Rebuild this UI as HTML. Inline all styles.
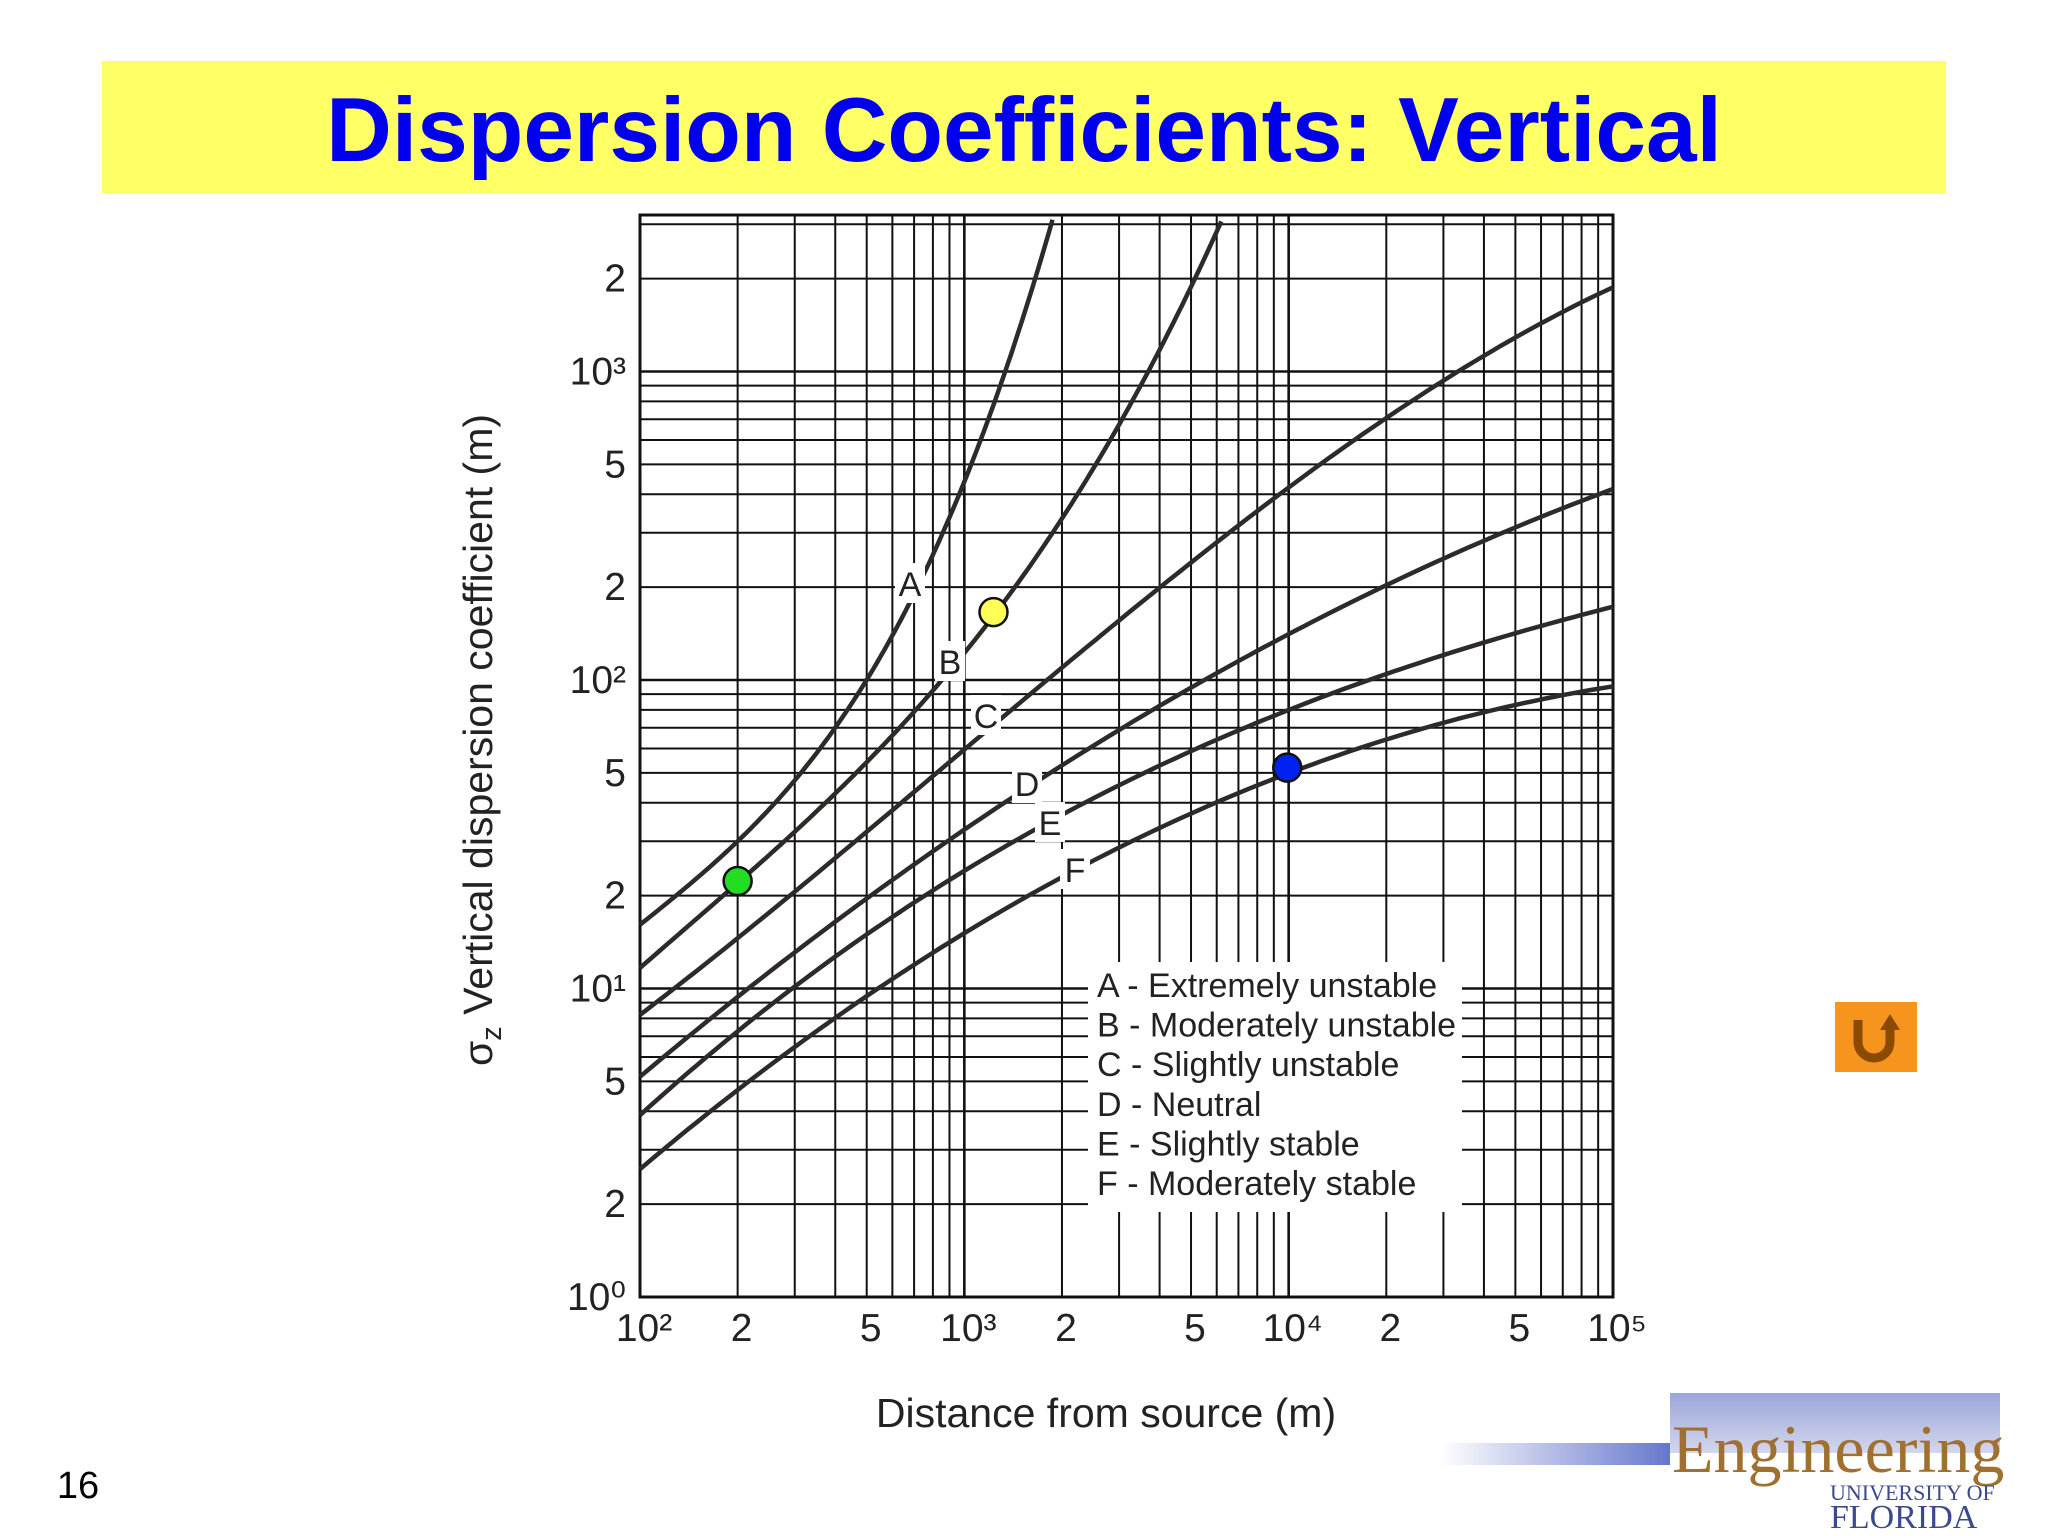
<!DOCTYPE html>
<html><head><meta charset="utf-8"><style>
html,body{margin:0;padding:0;background:#fff;}
svg{display:block;font-family:"Liberation Sans",Arial,sans-serif;}
</style></head><body>
<svg id="chart" width="2048" height="1536" viewBox="0 0 2048 1536" xmlns="http://www.w3.org/2000/svg">
<rect x="102" y="61" width="1844" height="132" fill="#ffff66"/>
<text x="1024" y="161" text-anchor="middle" font-size="91" font-weight="bold" fill="#0000ee">Dispersion Coefficients: Vertical</text>
<text x="78" y="1498" text-anchor="middle" font-size="38" fill="#000">16</text>
<g id="grid"></g>
<g id="curves"></g>
<g id="legend">
<rect x="1088" y="962" width="374" height="250" fill="#fff"/>
</g>
<g id="labels"></g>
<text transform="translate(492,740) rotate(-90)" text-anchor="middle" font-size="41" fill="#222">σ<tspan font-size="29" dy="9">z</tspan><tspan dy="-9"> Vertical dispersion coefficient (m)</tspan></text>
<text x="1106" y="1427" text-anchor="middle" font-size="41" fill="#222">Distance from source (m)</text>
<g>
<rect x="1835" y="1002" width="82" height="70" fill="#f7941d"/>
<path d="M1858 1020 v22 a16 16 0 0 0 32 0 v-14" fill="none" stroke="#8a4a00" stroke-width="9"/>
<path d="M1880 1030 l10 -16 l10 16 z" fill="#8a4a00"/>
</g>
<g>
<defs><linearGradient id="bar" x1="0" x2="1"><stop offset="0" stop-color="#fff"/><stop offset="1" stop-color="#6677cc"/></linearGradient>
<linearGradient id="box" x1="0" y1="0" x2="0" y2="1"><stop offset="0" stop-color="#8090d0"/><stop offset="1" stop-color="#c8cce8"/></linearGradient></defs>
<rect x="1440" y="1443" width="230" height="22" fill="url(#bar)"/>
<rect x="1670" y="1393" width="330" height="60" fill="url(#box)" opacity="0.8"/>
<text x="1672" y="1472" font-family="Liberation Serif,serif" font-size="68" fill="#a07030">Engineering</text>
<text x="1830" y="1500" font-family="Liberation Serif,serif" font-size="22" fill="#3b4a8a">UNIVERSITY OF</text>
<text x="1830" y="1528" font-family="Liberation Serif,serif" font-size="34" fill="#3b4a8a">FLORIDA</text>
</g>
</svg>
<script>
const xDist=[100,200,300,500,700,1000,1500,1870];
const curveA=[15.9,31.6,46,95,190,480,1350,3162];
const xDistB=[100,200,500,1000,1230,2000,3000,4000,6200];
const curveB=[11.6,22.3,54,113,166,374,650,1100,3162];
const xDistCF=[100,1000,10000,30000,100000];
const curveC=[8.2,60,410,960,1860];
const curveD=[5.2,32,151,230,425];
const curveE=[3.9,23.6,85,113,176];
const curveF=[2.6,15,51,71,96];
const markerX=[200,1230,9900];
const markerY=[22.3,166,52];
const markerColors=['#22dd22','#ffff55','#0022ee'];
const yTickVals=[1,2,5,10,20,50,100,200,500,1000,2000];
const yTickLabels=['10⁰','2','5','10¹','2','5','10²','2','5','10³','2'];
const xTickVals=[100,200,500,1000,2000,5000,10000,20000,50000,100000];
const xTickLabels=['10²','2','5','10³','2','5','10⁴','2','5','10⁵'];
const legendItems=['A - Extremely  unstable','B - Moderately unstable','C - Slightly unstable','D - Neutral','E - Slightly stable','F - Moderately stable'];

const L=640,R=1613,B=1297,T=215;
const xs=v=>L+(R-L)/3*Math.log10(v/100);
const ys=v=>B-308.5*Math.log10(v);
const NS='http://www.w3.org/2000/svg';
function mk(tag,attrs,parent){const e=document.createElementNS(NS,tag);for(const k in attrs)e.setAttribute(k,attrs[k]);parent.appendChild(e);return e;}
const grid=document.getElementById('grid');
mk('rect',{x:L,y:T,width:R-L,height:B-T,fill:'#fff'},grid);
for(let d=100;d<100000;d*=10)for(let m=1;m<10;m++){const v=d*m;const x=xs(v);
 const l=mk('line',{x1:x,x2:x,y1:T,y2:B,stroke:'#111','stroke-width':m===1?2.6:2},grid);
 
 }
for(let d=1;d<=1000;d*=10)for(let m=1;m<10;m++){const v=d*m;if(ys(v)<T)continue;const y=ys(v);
 const l=mk('line',{x1:L,x2:R,y1:y,y2:y,stroke:'#111','stroke-width':m===1?2.6:2},grid);
 
 }
mk('rect',{x:L,y:T,width:R-L,height:B-T,fill:'none',stroke:'#111','stroke-width':3},grid);
yTickVals.forEach((v,i)=>{const t=mk('text',{x:626,y:ys(v)+13,'text-anchor':'end','font-size':39,fill:'#222'},grid);t.textContent=yTickLabels[i];
 
 });
xTickVals.forEach((v,i)=>{const t=mk('text',{x:xs(v)+4,y:1341,'text-anchor':'middle','font-size':39,fill:'#222'},grid);t.textContent=xTickLabels[i];
 
 });
const curves=document.getElementById('curves');
function polyfit(xv,yv,deg){const n=deg+1;const A=[];for(let i=0;i<n;i++){A.push(new Array(n+1).fill(0));}
 xv.forEach((x,k)=>{for(let i=0;i<n;i++){for(let j=0;j<n;j++)A[i][j]+=Math.pow(x,i+j);A[i][n]+=yv[k]*Math.pow(x,i);}});
 for(let i=0;i<n;i++){let p=i;for(let r=i+1;r<n;r++)if(Math.abs(A[r][i])>Math.abs(A[p][i]))p=r;[A[i],A[p]]=[A[p],A[i]];
  for(let r=0;r<n;r++){if(r===i)continue;const f=A[r][i]/A[i][i];for(let c=i;c<=n;c++)A[r][c]-=f*A[i][c];}}
 return A.map((row,i)=>row[n]/row[i]);}
function path(xv,yv){const lx=xv.map(v=>Math.log10(v)-3),ly=yv.map(v=>Math.log10(v));
 const co=polyfit(lx,ly,3);const x0=lx[0],x1=lx[lx.length-1];let d='';let started=false;
 for(let i=0;i<=120;i++){const t=x0+(x1-x0)*i/120;let y=0;co.forEach((c,k)=>y+=c*Math.pow(t,k));
  const px=xs(Math.pow(10,t+3)),py=ys(Math.pow(10,y));if(py<T-2){if(started)break;continue;}
  d+=(started?' L':'M')+px.toFixed(1)+' '+py.toFixed(1);started=true;}
 return d;}
const series=[[xDist,curveA,'curve-a'],[xDistB,curveB,'curve-b'],[xDistCF,curveC,'curve-c'],[xDistCF,curveD,'curve-d'],[xDistCF,curveE,'curve-e'],[xDistCF,curveF,'curve-f']];
series.forEach(s=>{const e=mk('path',{d:path(s[0],s[1]),fill:'none',stroke:'#2e2a2a','stroke-width':4.5},curves);
 
 });
const labs=document.getElementById('labels');
const cl=[['A',910,584],['B',950,662],['C',986,716],['D',1027,784],['E',1050,823],['F',1075,870]];
cl.forEach(c=>{mk('rect',{x:c[1]-15,y:c[2]-21,width:30,height:40,fill:'#fff'},labs);
 const t=mk('text',{x:c[1],y:c[2]+12,'text-anchor':'middle','font-size':34,fill:'#222'},labs);t.textContent=c[0];
 
 });
markerX.forEach((x,i)=>{const c=mk('circle',{cx:xs(x),cy:ys(markerY[i]),r:14,fill:markerColors[i],stroke:'#111','stroke-width':2.5},labs);
 
 });
const leg=document.getElementById('legend');
legendItems.forEach((s,i)=>{const t=mk('text',{x:1097,y:997+i*39.6,'font-size':34,fill:'#222'},leg);t.textContent=s;
 
 });
</script>
</body></html>
